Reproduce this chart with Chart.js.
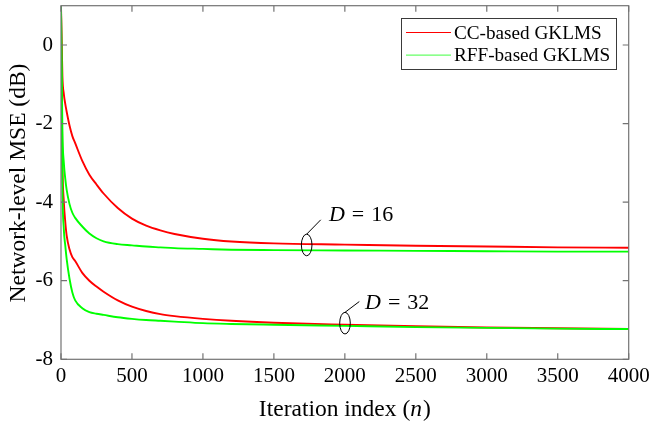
<!DOCTYPE html>
<html lang="en">
  <head>
    <meta charset="UTF-8" />
    <title>Network-level MSE</title>
    <script src="https://cdn.jsdelivr.net/npm/chart.js"></script>
    <style>
      html, body { margin: 0; padding: 0; background: #fff; }
      #wrap { width: 649px; height: 424px; }
    </style>
  </head>
  <body>
    <div id="wrap"><canvas id="myChart" width="649" height="424"></canvas></div>
    <script>
      // values (iteration index -> MSE in dB)
      const nIter = [0, 10, 20, 30, 40, 60, 80, 100, 150, 200, 250, 300, 400, 500, 600, 700, 800, 1000, 1200, 1500, 2000, 2500, 3000, 3500, 4000];
      const ccD16 = [1, -0.8, -1.25, -1.5, -1.7, -2.05, -2.32, -2.5, -2.95, -3.3, -3.55, -3.78, -4.15, -4.42, -4.6, -4.72, -4.81, -4.93, -5.0, -5.05, -5.08, -5.11, -5.13, -5.15, -5.16];
      const rffD16 = [1, -2.2, -3.0, -3.4, -3.69, -4.05, -4.27, -4.4, -4.62, -4.8, -4.92, -5.0, -5.07, -5.1, -5.13, -5.15, -5.17, -5.19, -5.21, -5.22, -5.23, -5.24, -5.25, -5.26, -5.26];
      const ccD32 = [1, -3.0, -4.0, -4.5, -4.85, -5.2, -5.4, -5.5, -5.8, -6.0, -6.15, -6.28, -6.5, -6.66, -6.77, -6.85, -6.9, -6.97, -7.02, -7.07, -7.12, -7.16, -7.19, -7.21, -7.23];
      const rffD32 = [1, -3.6, -4.7, -5.1, -5.45, -5.95, -6.3, -6.5, -6.7, -6.8, -6.84, -6.87, -6.93, -6.97, -7.0, -7.02, -7.04, -7.08, -7.1, -7.12, -7.15, -7.18, -7.2, -7.22, -7.23];
      const yTicks = [-8, -6, -4, -2, 0];
      const legendLabels = ["CC-based GKLMS", "RFF-based GKLMS"];
      // annotation anchors: [n, dB] of ellipse, end of pointer, label
      const noteD16 = { label: "16", ellipse: [1731, -5.09], tip: [1830, -4.45], text: [1888, -4.33] };
      const noteD32 = { label: "32", ellipse: [2001, -7.08], tip: [2102, -6.53], text: [2142, -6.56] };

      const SERIF = "'Liberation Serif', 'DejaVu Serif', serif";
      const RED = "#ff0000";
      const GREEN = "#00ff00";

      function pts(ys) {
        return nIter.map(function (n, i) {
          return { x: n, y: ys[i] };
        });
      }

      // frame, inward ticks, titles, legend and D annotations
      const matlabLook = {
        id: "matlabLook",
        afterDraw(chart) {
          const c = chart.ctx;
          const a = chart.chartArea;
          const xs = chart.scales.x;
          const ys = chart.scales.y;
          c.save();
          c.strokeStyle = "#737373";
          c.lineWidth = 1.2;
          c.strokeRect(a.left, a.top, a.right - a.left, a.bottom - a.top);
          c.beginPath();
          xs.ticks.forEach(function (t) {
            const px = xs.getPixelForValue(t.value);
            c.moveTo(px, a.bottom);
            c.lineTo(px, a.bottom - 6);
            c.moveTo(px, a.top);
            c.lineTo(px, a.top + 6);
          });
          ys.ticks.forEach(function (t) {
            const py = ys.getPixelForValue(t.value);
            c.moveTo(a.left, py);
            c.lineTo(a.left + 6, py);
            c.moveTo(a.right, py);
            c.lineTo(a.right - 6, py);
          });
          c.stroke();

          // axis titles
          const TF = "23.5px " + SERIF;
          c.fillStyle = "#000";
          c.textBaseline = "middle";
          const t1 = "Iteration index (";
          const t3 = ")";
          c.font = TF;
          const w1 = c.measureText(t1).width;
          const w3 = c.measureText(t3).width;
          c.font = "italic " + TF;
          const w2 = c.measureText("n").width + 1;
          let x0 = (a.left + a.right) / 2 - (w1 + w2 + w3) / 2;
          c.textAlign = "left";
          c.font = TF;
          c.fillText(t1, x0, 410);
          c.font = "italic " + TF;
          c.fillText("n", x0 + w1, 410);
          c.font = TF;
          c.fillText(t3, x0 + w1 + w2, 410);

          c.save();
          c.translate(19, 183);
          c.rotate(-Math.PI / 2);
          c.textAlign = "center";
          c.fillText("Network-level MSE (dB)", 0, 0);
          c.restore();

          // legend
          const lx = 401, ly = 18, lw = 215, lh = 51;
          c.fillStyle = "#fff";
          c.fillRect(lx, ly, lw, lh);
          c.strokeStyle = "#3a3a3a";
          c.lineWidth = 1;
          c.strokeRect(lx + 0.5, ly + 0.5, lw, lh);
          const legendColors = [RED, "#66ff66"];
          legendLabels.forEach(function (lab, i) {
            const yy = 32.5 + i * 22.7;
            c.strokeStyle = legendColors[i];
            c.lineWidth = 1.2;
            c.beginPath();
            c.moveTo(406, yy);
            c.lineTo(451, yy);
            c.stroke();
            c.fillStyle = "#000";
            c.font = "19.2px " + SERIF;
            c.textAlign = "left";
            c.fillText(lab, 454, yy + 1);
          });

          // D = 16 / D = 32 notes
          [noteD16, noteD32].forEach(function (note) {
            const ex = xs.getPixelForValue(note.ellipse[0]);
            const ey = ys.getPixelForValue(note.ellipse[1]);
            const tx = xs.getPixelForValue(note.tip[0]);
            const ty = ys.getPixelForValue(note.tip[1]);
            c.strokeStyle = "#000";
            c.lineWidth = 1;
            c.beginPath();
            c.ellipse(ex, ey, 5.3, 10.8, 0, 0, Math.PI * 2);
            c.stroke();
            c.beginPath();
            c.moveTo(ex, ey - 10.8);
            c.lineTo(tx, ty);
            c.stroke();
            const px = xs.getPixelForValue(note.text[0]);
            const py = ys.getPixelForValue(note.text[1]);
            c.fillStyle = "#000";
            c.textAlign = "left";
            c.font = "italic 22px " + SERIF;
            c.fillText("D", px, py);
            const wd = c.measureText("D").width;
            c.font = "22px " + SERIF;
            c.fillText("=", px + wd + 7, py);
            const we = c.measureText("=").width;
            c.fillText(note.label, px + wd + 7 + we + 7, py);
          });
          c.restore();
        },
      };

      const ctx = document.querySelector("#myChart");
      const lineBase = {
        pointRadius: 0,
        borderWidth: 1.9,
        fill: false,
        cubicInterpolationMode: "monotone",
      };

      new Chart(ctx, {
        type: "line",
        data: {
          datasets: [
            Object.assign({ label: legendLabels[0], data: pts(ccD16), borderColor: RED, order: 2 }, lineBase),
            Object.assign({ label: legendLabels[1], data: pts(rffD16), borderColor: GREEN, order: 1 }, lineBase),
            Object.assign({ label: legendLabels[0], data: pts(ccD32), borderColor: RED, order: 2 }, lineBase),
            Object.assign({ label: legendLabels[1], data: pts(rffD32), borderColor: GREEN, order: 1 }, lineBase),
          ],
        },
        options: {
          responsive: false,
          animation: false,
          layout: { padding: { top: 5.7, right: 20.3, left: 0, bottom: 0 } },
          plugins: {
            legend: { display: false },
            tooltip: { enabled: false },
          },
          scales: {
            x: {
              type: "linear",
              min: 0,
              max: 4000,
              grid: { display: false, drawTicks: false },
              border: { display: false },
              ticks: {
                stepSize: 500,
                padding: 5,
                color: "#000",
                maxRotation: 0,
                font: { family: SERIF, size: 21 },
                callback: function (v) {
                  return String(v);
                },
              },
              afterFit(scale) {
                scale.height = 64.7;
                scale.paddingLeft = 0;
                scale.paddingRight = 0;
              },
            },
            y: {
              min: -8,
              max: 1,
              grid: { display: false, drawTicks: false },
              border: { display: false },
              ticks: {
                padding: 8,
                color: "#000",
                font: { family: SERIF, size: 21 },
                callback: function (v) {
                  return String(v);
                },
              },
              afterBuildTicks(scale) {
                scale.ticks = yTicks.map(function (v) {
                  return { value: v };
                });
              },
              afterFit(scale) {
                scale.width = 61;
                scale.paddingTop = 0;
                scale.paddingBottom = 0;
              },
            },
          },
        },
        plugins: [matlabLook],
      });
    </script>
  </body>
</html>
